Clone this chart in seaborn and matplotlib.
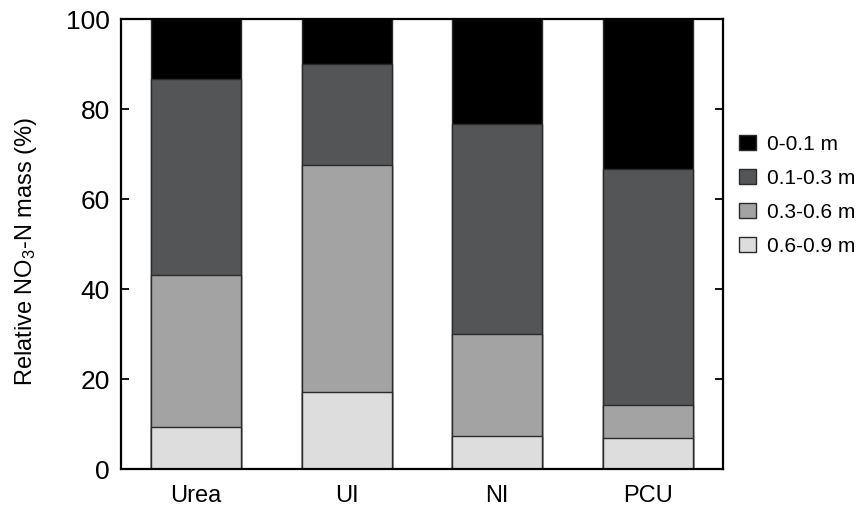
import numpy as np
import pandas as pd
import matplotlib
matplotlib.use("Agg")
import matplotlib.pyplot as plt
import seaborn as sns

sns.set_style("ticks")
plt.rcParams["font.family"] = ["Liberation Sans", "DejaVu Sans"]
plt.rcParams["mathtext.fontset"] = "custom"
plt.rcParams["mathtext.rm"] = "Liberation Sans"
plt.rcParams["mathtext.it"] = "Liberation Sans"
plt.rcParams["text.color"] = "black"
plt.rcParams["axes.labelcolor"] = "black"
plt.rcParams["xtick.color"] = "black"
plt.rcParams["ytick.color"] = "black"

# Treatments and soil depth layers
treatments = ["Urea", "UI", "NI", "PCU"]
layers = ["0-0.1 m", "0.1-0.3 m", "0.3-0.6 m", "0.6-0.9 m"]

# Relative NO3-N mass (%) in each depth layer
layer_0_01 = [13.4, 10.2, 23.4, 33.5]
layer_01_03 = [43.5, 22.4, 46.7, 52.3]
layer_03_06 = [33.7, 50.2, 22.5, 7.4]
layer_06_09 = [9.4, 17.2, 7.4, 6.8]

colors = ["#000000", "#545556", "#a3a3a3", "#dcdddc"]

# Stack from the deepest layer upward
stack = np.array([layer_06_09, layer_03_06, layer_01_03, layer_0_01])
tops = np.cumsum(stack, axis=0)[::-1]  # top of 0-0.1, 0.1-0.3, 0.3-0.6, 0.6-0.9

fig = plt.figure(figsize=(8.6, 5.06), dpi=100)
ax = fig.add_axes([121 / 860, 36 / 506, 602 / 860, 450.5 / 506])

for name, top, col in zip(layers, tops, colors):
    df = pd.DataFrame({"treatment": treatments, "value": top})
    sns.barplot(data=df, x="treatment", y="value", color=col, width=0.6,
                edgecolor="#2a2a2a", linewidth=1.0, saturation=1, label=name,
                ax=ax, errorbar=None)

ax.set_xlim(-0.5, 3.5)
ax.set_ylim(0, 100)
ax.set_yticks([0, 20, 40, 60, 80, 100])
ax.set_xlabel("")
ax.set_ylabel("Relative NO$_3$-N mass (%)", fontsize=17)
ax.yaxis.set_label_coords(-0.136, 0.485)

for s in ax.spines.values():
    s.set_visible(True)
    s.set_linewidth(1.6)
    s.set_color("black")

ax.tick_params(axis="y", direction="in", length=6, width=1.3, labelsize=19,
               right=True, pad=8)
ax.tick_params(axis="x", length=0, labelsize=17, pad=11)

handles, labels = ax.get_legend_handles_labels()
leg = fig.legend(handles, labels, loc="center left",
                 bbox_to_anchor=(739 / 860, 1 - 196 / 506), frameon=False,
                 fontsize=15, handlelength=0.8, handleheight=0.75,
                 handletextpad=0.55, labelspacing=0.72,
                 borderpad=0, borderaxespad=0)
for t in leg.get_texts():
    t.set_color("black")
if ax.get_legend() is not None:
    ax.get_legend().remove()

fig.savefig("out.png", dpi=100)
